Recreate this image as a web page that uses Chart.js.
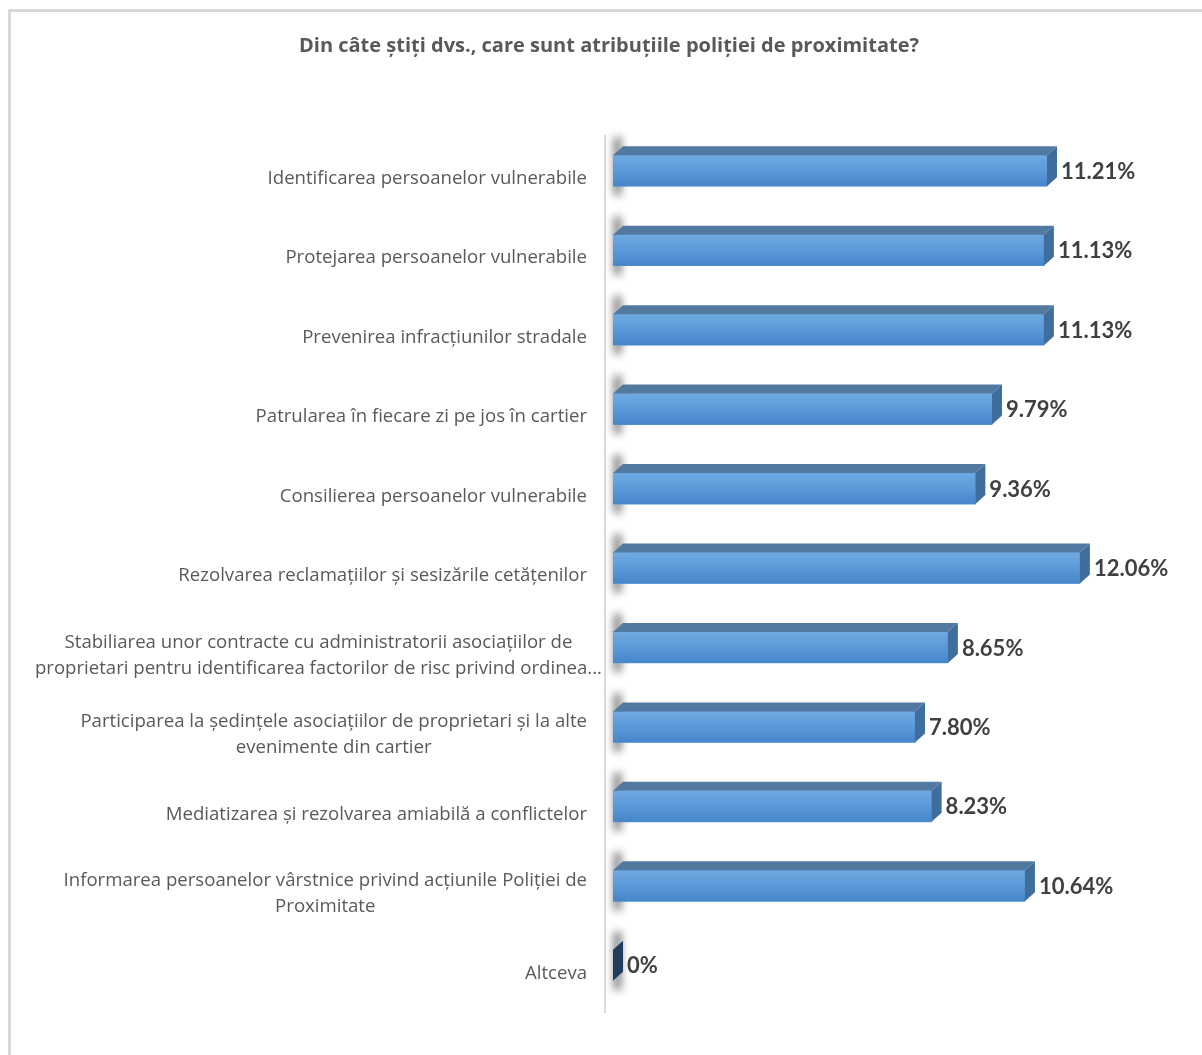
<!DOCTYPE html>
<html>
<head>
<meta charset="utf-8">
<script src="https://cdn.jsdelivr.net/npm/chart.js@4.4.0/dist/chart.umd.min.js"></script>
<style>
  html, body { margin: 0; padding: 0; background: #fff; }
</style>
</head>
<body>
<canvas id="chart" width="1202" height="1055"></canvas>
<script>
// date din grafic
var chartTitle = "Din câte știți dvs., care sunt atribuțiile poliției de proximitate?";

var categories = [
  ["Identificarea persoanelor vulnerabile"],
  ["Protejarea persoanelor vulnerabile"],
  ["Prevenirea infracțiunilor stradale"],
  ["Patrularea în fiecare zi pe jos în cartier"],
  ["Consilierea persoanelor vulnerabile"],
  ["Rezolvarea reclamațiilor și sesizările cetățenilor"],
  ["Stabiliarea unor contracte cu administratorii asociațiilor de",
   "proprietari pentru identificarea factorilor de risc privind ordinea..."],
  ["Participarea la ședințele asociațiilor de proprietari și la alte",
   "evenimente din cartier"],
  ["Mediatizarea și rezolvarea amiabilă a conflictelor"],
  ["Informarea persoanelor vârstnice privind acțiunile Poliției de",
   "Proximitate"],
  ["Altceva"]
];

var percentValues = [11.21, 11.13, 11.13, 9.79, 9.36, 12.06, 8.65, 7.80, 8.23, 10.64, 0];

var DX = 10, DY = 9; // adancime 3D

function fmtPct(v) {
  return v === 0 ? "0%" : v.toFixed(2) + "%";
}

var bars3d = {
  id: "bars3d",
  beforeDraw: function (chart) {
    const ctx = chart.ctx;
    ctx.save();
    // chenar
    ctx.strokeStyle = "#d9d9d9";
    ctx.lineWidth = 3;
    ctx.beginPath();
    ctx.moveTo(9.5, 1060);
    ctx.lineTo(9.5, 10.5);
    ctx.lineTo(1210, 10.5);
    ctx.stroke();
    // titlu
    ctx.fillStyle = "#595959";
    ctx.font = "bold 20px 'Open Sans'";
    ctx.textAlign = "center";
    ctx.textBaseline = "middle";
    ctx.fillText(chartTitle, 609, 46);
    ctx.restore();
  },
  beforeDatasetsDraw: function (chart) {
    const ctx = chart.ctx;
    const xs = chart.scales.x;
    const x0 = xs.getPixelForValue(0);
    ctx.save();
    // axa verticala
    ctx.strokeStyle = "#d9d9d9";
    ctx.lineWidth = 2;
    ctx.beginPath();
    ctx.moveTo(x0 - 8, chart.chartArea.top + 4);
    ctx.lineTo(x0 - 8, chart.chartArea.bottom + 8);
    ctx.stroke();
    // umbra la baza
    chart.getDatasetMeta(0).data.forEach(function (el) {
      const p = el.getProps(["x", "y", "base", "height"], true);
      const top = p.y - p.height / 2, bottom = p.y + p.height / 2;
      ctx.filter = "blur(4px)";
      ctx.fillStyle = "rgba(0,0,0,0.55)";
      ctx.fillRect(p.base + 1, top - DY - 9, 7, bottom - top + DY + 18);
      ctx.filter = "none";
    });
    ctx.restore();
  },
  afterDatasetsDraw: function (chart) {
    const ctx = chart.ctx;
    ctx.save();
    chart.getDatasetMeta(0).data.forEach(function (el, i) {
      const p = el.getProps(["x", "y", "base", "height"], true);
      const top = p.y - p.height / 2, bottom = p.y + p.height / 2;
      const w = p.x - p.base;
      if (w > 0.5) {
        // fata
        let g = ctx.createLinearGradient(0, top, 0, bottom);
        g.addColorStop(0, "#6fa9e1");
        g.addColorStop(0.5, "#5a9ad9");
        g.addColorStop(1, "#4686c9");
        ctx.fillStyle = g;
        ctx.fillRect(p.base, top, w, bottom - top);
        // sus
        ctx.fillStyle = "#52799f";
        ctx.beginPath();
        ctx.moveTo(p.base, top);
        ctx.lineTo(p.x, top);
        ctx.lineTo(p.x + DX, top - DY);
        ctx.lineTo(p.base + DX, top - DY);
        ctx.closePath();
        ctx.fill();
      }
      // lateral
      ctx.fillStyle = w > 0.5 ? "#3f6d9c" : "#1f3d5e";
      ctx.beginPath();
      ctx.moveTo(p.x, top);
      ctx.lineTo(p.x + DX, top - DY);
      ctx.lineTo(p.x + DX, bottom - DY);
      ctx.lineTo(p.x, bottom);
      ctx.closePath();
      ctx.fill();
      // eticheta valoare
      ctx.fillStyle = "#404040";
      ctx.font = "bold 22px Lato";
      ctx.textAlign = "left";
      ctx.textBaseline = "middle";
      ctx.fillText(fmtPct(percentValues[i]), p.x + DX + 4, p.y + 1);
    });
    ctx.restore();
  },
  afterDraw: function (chart) {
    const ctx = chart.ctx;
    const ys = chart.scales.y;
    ctx.save();
    ctx.fillStyle = "#595959";
    ctx.font = "18.6px 'Open Sans'";
    ctx.textBaseline = "middle";
    ctx.textAlign = "center";
    const lineH = 25.5, right = 587;
    categories.forEach(function (lines, i) {
      const cy = ys.getPixelForValue(i) + 8;
      let maxW = 0;
      lines.forEach(function (l) { maxW = Math.max(maxW, ctx.measureText(l).width); });
      // ultimul rand trunchiat depaseste putin marginea, ca in Excel
      const r = lines[lines.length - 1].endsWith("...") ? right + 15 : right;
      const cx = r - maxW / 2;
      lines.forEach(function (l, k) {
        ctx.fillText(l, cx, cy + (k - (lines.length - 1) / 2) * lineH);
      });
    });
    ctx.restore();
  }
};

new Chart(document.getElementById("chart").getContext("2d"), {
  type: "bar",
  data: {
    labels: categories,
    datasets: [{
      data: percentValues,
      backgroundColor: "#5b9bd5",
      borderWidth: 0,
      barThickness: 31
    }]
  },
  options: {
    indexAxis: "y",
    responsive: false,
    animation: false,
    layout: { padding: { top: 131, bottom: 50, left: 0, right: 47 } },
    plugins: {
      legend: { display: false },
      title: { display: false },
      tooltip: { enabled: false }
    },
    scales: {
      x: { display: false, min: 0, max: 14 },
      y: {
        ticks: { display: false },
        grid: { display: false },
        border: { display: false },
        afterFit: function (scale) { scale.width = 613; }
      }
    }
  },
  plugins: [bars3d]
});
</script>
</body>
</html>
